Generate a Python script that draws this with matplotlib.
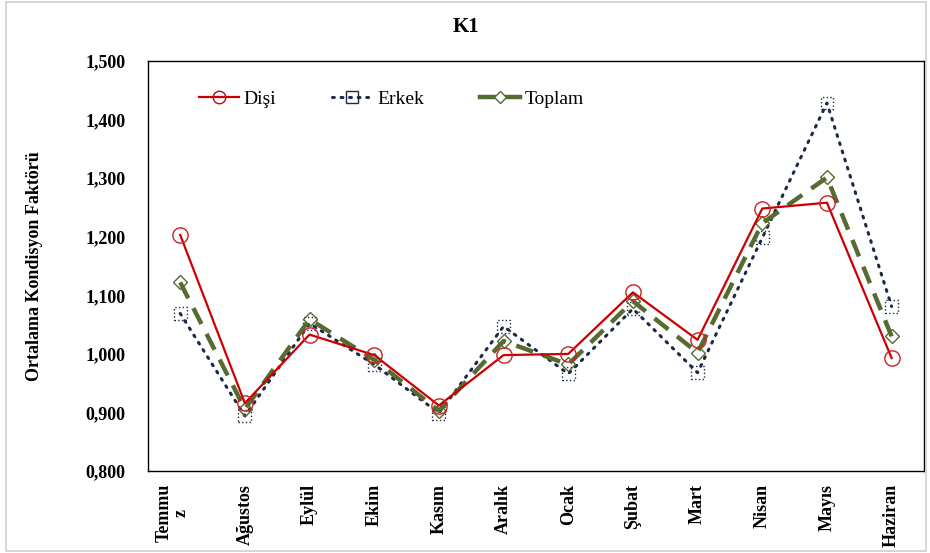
import matplotlib.pyplot as plt
from matplotlib.lines import Line2D
from matplotlib.ticker import FuncFormatter
from matplotlib.transforms import ScaledTranslation
import numpy as np

# aylar ve degerler
aylar = ['Temmu\nz', 'Ağustos', 'Eylül', 'Ekim', 'Kasım', 'Aralık',
         'Ocak', 'Şubat', 'Mart', 'Nisan', 'Mayıs', 'Haziran']
disi = [1.203, 0.916, 1.033, 0.998, 0.912, 0.998, 1.000, 1.105, 1.024, 1.248, 1.258, 0.993]
erkek = [1.069, 0.894, 1.052, 0.982, 0.899, 1.047, 0.966, 1.077, 0.968, 1.198, 1.428, 1.081]
toplam = [1.122, 0.906, 1.059, 0.990, 0.903, 1.022, 0.982, 1.090, 1.002, 1.223, 1.301, 1.030]

plt.rcParams['font.family'] = ['Liberation Serif', 'DejaVu Serif']

fig = plt.figure(figsize=(9.3, 5.53), dpi=100)
ax = fig.add_axes([0.159, 0.148, 0.8345, 0.742])

x = np.arange(len(aylar))

ax.plot(x, disi, color='#CC0000', lw=1.6, marker='o', ms=11,
        mfc='none', mec='#CC2020', mew=1.0, zorder=4)
ax.plot(x, erkek, color='#1B2A47', lw=2.2, linestyle=(0, (0.6, 2.2)),
        dash_capstyle='round', zorder=2)
ax.scatter(x, erkek, marker='s', s=85, facecolors='none', edgecolors='#1B2A47',
           linewidths=1.0, linestyle=':', zorder=2)
ax.plot(x, toplam, color='#556B2F', lw=3.2, linestyle=(0, (4, 2.5)),
        marker='D', ms=7, mfc='none', mec='#556B2F', mew=1.0, zorder=3)

# leyenda manual
h_disi = Line2D([], [], color='#CC0000', lw=1.6, marker='o', ms=9, mfc='none', mew=1.0)
h_erkek = Line2D([], [], color='#1B2A47', lw=2.2, linestyle=(0, (0.6, 2.2)),
                 dash_capstyle='round', marker='s', ms=8, mfc='none', mew=1.0)
h_toplam = Line2D([], [], color='#556B2F', lw=3.2, marker='D', ms=6, mfc='white', mew=1.0)
ax.legend([h_disi, h_erkek, h_toplam], ['Dişi', 'Erkek', 'Toplam'], ncol=3,
          loc='upper left', bbox_to_anchor=(0.043, 0.97), frameon=False,
          fontsize=14, handlelength=2.05, columnspacing=2.9, handletextpad=0.25)

ax.set_xlim(-0.5, len(aylar) - 0.5)
ax.set_ylim(0.8, 1.5)
ax.set_yticks(np.arange(0.8, 1.501, 0.1))
ax.yaxis.set_major_formatter(FuncFormatter(lambda v, p: ('%.3f' % v).replace('.', ',')))
ax.set_xticks(x)
ax.set_xticklabels(aylar, rotation=90, fontweight='bold', fontsize=13, linespacing=1.0)
for t in ax.get_yticklabels():
    t.set_fontweight('bold')
    t.set_fontsize(13)
ax.tick_params(axis='both', length=0)
ax.tick_params(axis='y', pad=16)
ax.tick_params(axis='x', pad=9)
# Temmuz etiketi biraz sola (tick_params despues, si no se resetea)
lab0 = ax.get_xticklabels()[0]
lab0.set_transform(lab0.get_transform() + ScaledTranslation(-8 / 100, 0, fig.dpi_scale_trans))
for s in ax.spines.values():
    s.set_linewidth(1.0)
    s.set_color('black')

ax.set_ylabel('Ortalama Kondisyon Faktörü', fontweight='bold', fontsize=13)
ax.yaxis.set_label_coords(-0.135, 0.5)
fig.text(0.501, 0.951, 'K1', ha='center', va='center', fontsize=15, fontweight='bold')

fig.patches.append(plt.Rectangle((0.006, 0.003), 0.99, 0.994, transform=fig.transFigure,
                                 fill=False, edgecolor='#D0D0D0', lw=1.2))

plt.savefig('out.png', dpi=100)
plt.close()
